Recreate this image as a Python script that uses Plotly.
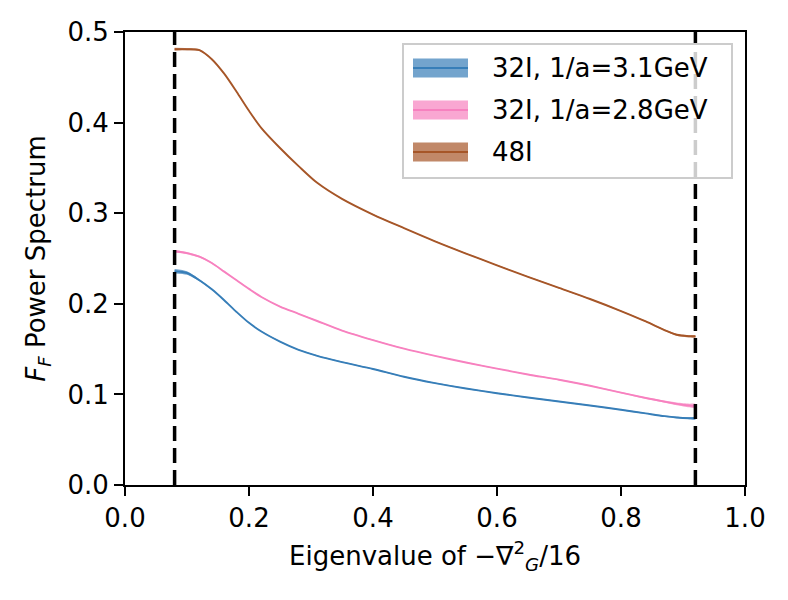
import plotly.graph_objects as go

# eigenvalue grid shared by all three ensembles
eig = [0.08, 0.10, 0.12, 0.14, 0.16, 0.18, 0.20, 0.22, 0.25, 0.28, 0.31, 0.35,
       0.40, 0.45, 0.50, 0.55, 0.60, 0.65, 0.70, 0.75, 0.80, 0.84, 0.87, 0.89,
       0.91, 0.92]

ff_32i_31 = [0.236, 0.234, 0.226, 0.216, 0.204, 0.191, 0.179, 0.1694, 0.1583, 0.1492,
             0.1426, 0.1357, 0.128, 0.1195, 0.1125, 0.1065, 0.1013, 0.0966, 0.0922,
             0.0878, 0.083, 0.079, 0.076, 0.0745, 0.0737, 0.0736]
err_32i_31 = [0.0025, 0.002, 0.0012, 0.0008, 0.0006, 0.0005, 0.0005, 0.0005, 0.0005,
              0.0005, 0.0005, 0.0005, 0.0005, 0.0005, 0.0005, 0.0005, 0.0005, 0.0005,
              0.0005, 0.0005, 0.0005, 0.0006, 0.0007, 0.0008, 0.001, 0.0012]

ff_32i_28 = [0.258, 0.256, 0.252, 0.245, 0.2355, 0.226, 0.2165, 0.2075, 0.197, 0.189,
             0.181, 0.1705, 0.160, 0.1505, 0.1425, 0.1352, 0.1285, 0.122, 0.1162,
             0.1095, 0.102, 0.096, 0.092, 0.0895, 0.0877, 0.0872]
err_32i_28 = [0.0015, 0.0012, 0.001, 0.0008, 0.0006, 0.0005, 0.0005, 0.0005, 0.0005,
              0.0005, 0.0005, 0.0005, 0.0005, 0.0005, 0.0005, 0.0005, 0.0005, 0.0005,
              0.0005, 0.0006, 0.0007, 0.0009, 0.0012, 0.0015, 0.002, 0.0022]

ff_48i = [0.481, 0.481, 0.480, 0.470, 0.454, 0.434, 0.413, 0.394, 0.372, 0.352,
          0.3335, 0.3158, 0.2985, 0.2835, 0.269, 0.2555, 0.2425, 0.2298, 0.2175,
          0.2053, 0.192, 0.1805, 0.171, 0.1658, 0.1642, 0.164]
err_48i = [0.0015, 0.0012, 0.001, 0.0008, 0.0006, 0.0005, 0.0005, 0.0005, 0.0005,
           0.0005, 0.0005, 0.0005, 0.0005, 0.0005, 0.0005, 0.0005, 0.0005, 0.0005,
           0.0005, 0.0005, 0.0006, 0.0007, 0.0008, 0.001, 0.0012, 0.0012]

labels = ["32I, 1/a=3.1GeV", "32I, 1/a=2.8GeV", "48I"]
line_colors = ["#377eb8", "#f781bf", "#a65628"]
fill_colors = ["rgba(55,126,184,0.7)", "rgba(247,129,191,0.7)", "rgba(166,86,40,0.7)"]
cuts = [0.08, 0.92]

FONT = "DejaVu Sans, Arial, sans-serif"
PAD = 8  # page body margin in the browser
W, H = 788 - PAD, 600 - PAD
L, R, T, B = 125 - PAD, 43, 32 - PAD, 115


def px(x, y):
    # page pixel -> paper coords (plot area)
    x -= PAD
    y -= PAD
    return (x - L) / (W - L - R), (H - B - y) / (H - T - B)


fig = go.Figure()
series = [(ff_32i_31, err_32i_31), (ff_32i_28, err_32i_28), (ff_48i, err_48i)]
for (vals, errs), lc, fc, name in zip(series, line_colors, fill_colors, labels):
    upper = [v + e for v, e in zip(vals, errs)]
    lower = [v - e for v, e in zip(vals, errs)]
    fig.add_trace(go.Scatter(
        x=eig + eig[::-1], y=upper + lower[::-1],
        fill="toself", fillcolor=fc, line=dict(width=0, shape="spline", smoothing=0.8),
        hoverinfo="skip", showlegend=False,
    ))
    fig.add_trace(go.Scatter(
        x=eig, y=vals, mode="lines", name=name,
        line=dict(color=lc, width=1.9, shape="spline", smoothing=0.8),
        showlegend=False,
    ))

for c in cuts:
    fig.add_shape(type="line", x0=c, x1=c, y0=0, y1=1, xref="x", yref="paper",
                  line=dict(color="black", width=3.5, dash="15px,7px"))

# hand-built legend, matplotlib style
bx0, by0 = px(403, 44)
bx1, by1 = px(732, 178)
fig.add_shape(type="rect", xref="paper", yref="paper", x0=bx0, x1=bx1, y0=by1, y1=by0,
              fillcolor="rgba(255,255,255,0.8)", line=dict(color="#cccccc", width=2))
for i, (name, lc, fc) in enumerate(zip(labels, line_colors, fill_colors)):
    cy = 68 + i * 42
    ax0, ay0 = px(413, cy - 9.5)
    ax1, ay1 = px(468, cy + 9.5)
    fig.add_shape(type="rect", xref="paper", yref="paper", x0=ax0, x1=ax1, y0=ay1, y1=ay0,
                  fillcolor=fc, line=dict(width=0))
    lx0, ly = px(413, cy)
    lx1, _ = px(468, cy)
    fig.add_shape(type="line", xref="paper", yref="paper", x0=lx0, x1=lx1, y0=ly, y1=ly,
                  line=dict(color=lc, width=2))
    tx, ty = px(490, cy)
    fig.add_annotation(x=tx, y=ty, xref="paper", yref="paper", text=name, showarrow=False,
                       xanchor="left", yanchor="middle", font=dict(size=26, color="black"))

axis_style = dict(
    showgrid=False, zeroline=False, showline=True, mirror=True, automargin=False,
    linecolor="black", linewidth=2, ticks="outside", ticklen=9, tickwidth=2,
    tickcolor="black", tickfont=dict(size=26, color="black"),
)

fig.update_layout(
    width=W, height=H,
    margin=dict(l=L, r=R, t=T, b=B),
    plot_bgcolor="white", paper_bgcolor="white",
    font=dict(family=FONT, color="black", size=26),
    showlegend=False,
    xaxis=dict(range=[0, 1], tickvals=[0, 0.2, 0.4, 0.6, 0.8, 1.0],
               ticktext=["0.0", "0.2", "0.4", "0.6", "0.8", "1.0"],
               title=dict(text="Eigenvalue of \u2212\u2207<sup>2</sup><sub><i>G</i></sub>/16",
                          standoff=15, font=dict(size=26)),
               **axis_style),
    yaxis=dict(range=[0, 0.5], tickvals=[0, 0.1, 0.2, 0.3, 0.4, 0.5],
               ticktext=["0.0", "0.1", "0.2", "0.3", "0.4", "0.5"],
               title=dict(text="<i>F</i><sub><i>F</i></sub> Power Spectrum",
                          standoff=14, font=dict(size=26)),
               **axis_style),
)

fig.write_html("out.html")
